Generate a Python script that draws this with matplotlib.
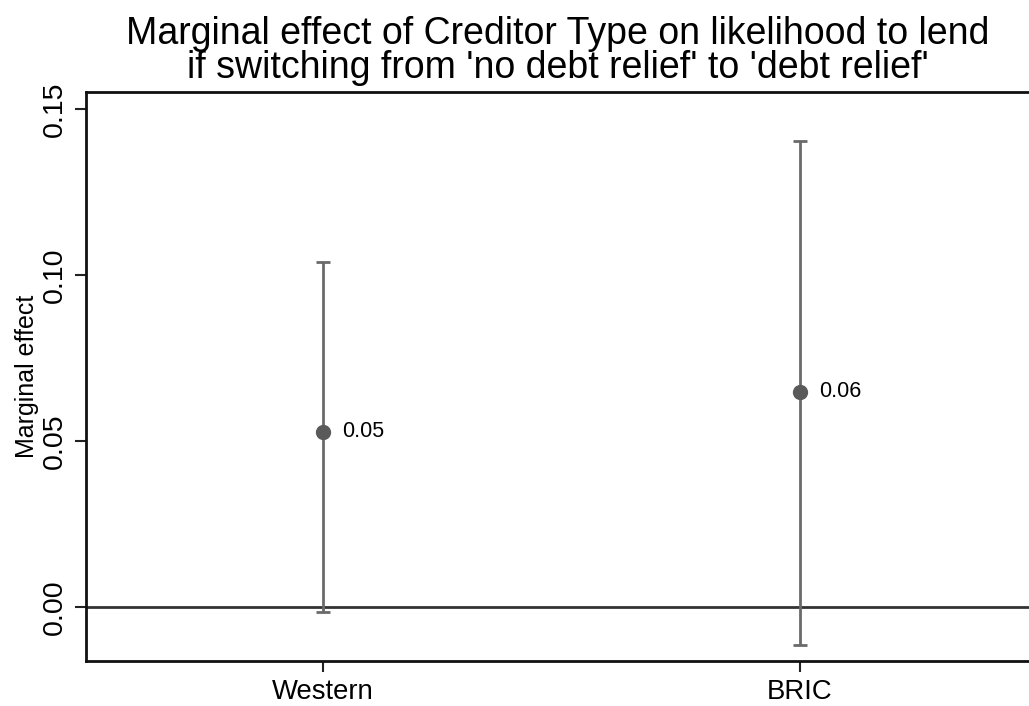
import matplotlib
matplotlib.use("Agg")
import matplotlib.pyplot as plt

plt.rcParams['font.family'] = ['Liberation Sans', 'DejaVu Sans']

categories = ["Western", "BRIC"]
effects = [0.0527, 0.0648]
ci_low = [-0.0015, -0.0114]
ci_high = [0.1039, 0.1404]
point_labels = ["0.05", "0.06"]
yticks = [0.00, 0.05, 0.10, 0.15]

fig = plt.figure(figsize=(10.29, 7.06), dpi=100)
ax = fig.add_axes([86/1029, 1-661/706, 1-86/1029, (661-92)/706])

x = [1, 2]
yerr = [[e - l for e, l in zip(effects, ci_low)], [h - e for e, h in zip(effects, ci_high)]]
ax.axhline(0, color='#333333', lw=2, zorder=1)
ax.errorbar(x, effects, yerr=yerr, fmt='o', color='#5a5a5a', ecolor='#6a6a6a',
            elinewidth=2, capsize=5, capthick=2, markersize=10, zorder=3)
for xi, e, lab in zip(x, effects, point_labels):
    ax.annotate(lab, (xi, e), xytext=(13.5, 0), textcoords='offset points',
                va='center', ha='left', fontsize=15.5)

ax.set_xlim(0.503, 2.48)
ax.set_ylim(-0.0163, 0.1551)
ax.set_xticks(x)
ax.set_xticklabels(categories, fontsize=19.8)
ax.set_yticks(yticks)
ax.set_yticklabels([f"{v:.2f}" for v in yticks], fontsize=20.5, rotation=90, va='center')
ax.tick_params(axis='both', length=8, width=1.5, color='#222222', pad=5)
ax.set_ylabel("Marginal effect", fontsize=18, labelpad=2)
ax.spines['right'].set_visible(False)
for s in ['left', 'bottom', 'top']:
    ax.spines[s].set_linewidth(2)
    ax.spines[s].set_color('#111111')
ax.set_title("Marginal effect of Creditor Type on likelihood to lend\nif switching from 'no debt relief' to 'debt relief'",
             fontsize=27, linespacing=0.93, pad=10)

fig.savefig("out.png", dpi=100)
